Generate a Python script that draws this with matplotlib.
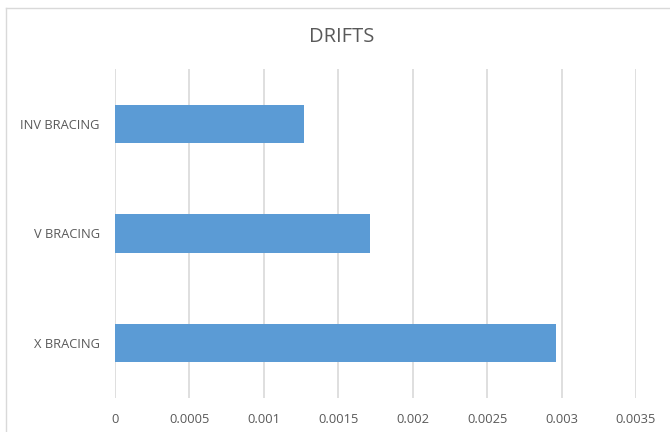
import matplotlib
matplotlib.use('Agg')
import matplotlib.pyplot as plt
from matplotlib.lines import Line2D

# bracing systems and their drift values
systems = ['X BRACING', 'V BRACING', 'INV BRACING']
drifts = [0.00296, 0.00171, 0.00127]
ticks = [0, 0.0005, 0.001, 0.0015, 0.002, 0.0025, 0.003, 0.0035]
tick_labels = ['0', '0.0005', '0.001', '0.0015', '0.002', '0.0025',
               '0.003', '0.0035']

plt.rcParams['font.family'] = ['Open Sans', 'DejaVu Sans']
text_col = '#595959'
grid_col = '#d9d9d9'

W, H = 670, 432
fig = plt.figure(figsize=(W / 100, H / 100), dpi=100)
ax = fig.add_axes([115 / W, (H - 398) / H, (636 - 115) / W, 329 / H])

ax.barh(range(len(systems)), drifts, height=0.35, color='#5b9bd5', zorder=3)
ax.set_xlim(0, 0.0035)
ax.set_ylim(-0.5, len(systems) - 0.5)
ax.set_xticks(ticks)
ax.set_xticklabels(tick_labels)
ax.set_yticks(range(len(systems)))
ax.set_yticklabels(systems)
ax.tick_params(axis='both', length=0, labelsize=9.3, labelcolor=text_col)
ax.tick_params(axis='x', pad=11)
ax.tick_params(axis='y', pad=11)
ax.grid(axis='x', color=grid_col, linewidth=1.2, zorder=0)
for s in ax.spines.values():
    s.set_visible(False)

fig.text(342 / W, 1 - 37 / H, 'DRIFTS', ha='center', va='center',
         fontsize=14.5, color=text_col)

# chart area frame (top and left edges)
fig.add_artist(Line2D([6 / W, 1], [1 - 8 / H, 1 - 8 / H],
                      transform=fig.transFigure, color=grid_col, lw=1))
fig.add_artist(Line2D([6 / W, 6 / W], [0, 1 - 8 / H],
                      transform=fig.transFigure, color=grid_col, lw=1))

fig.savefig('out.png', dpi=100)
